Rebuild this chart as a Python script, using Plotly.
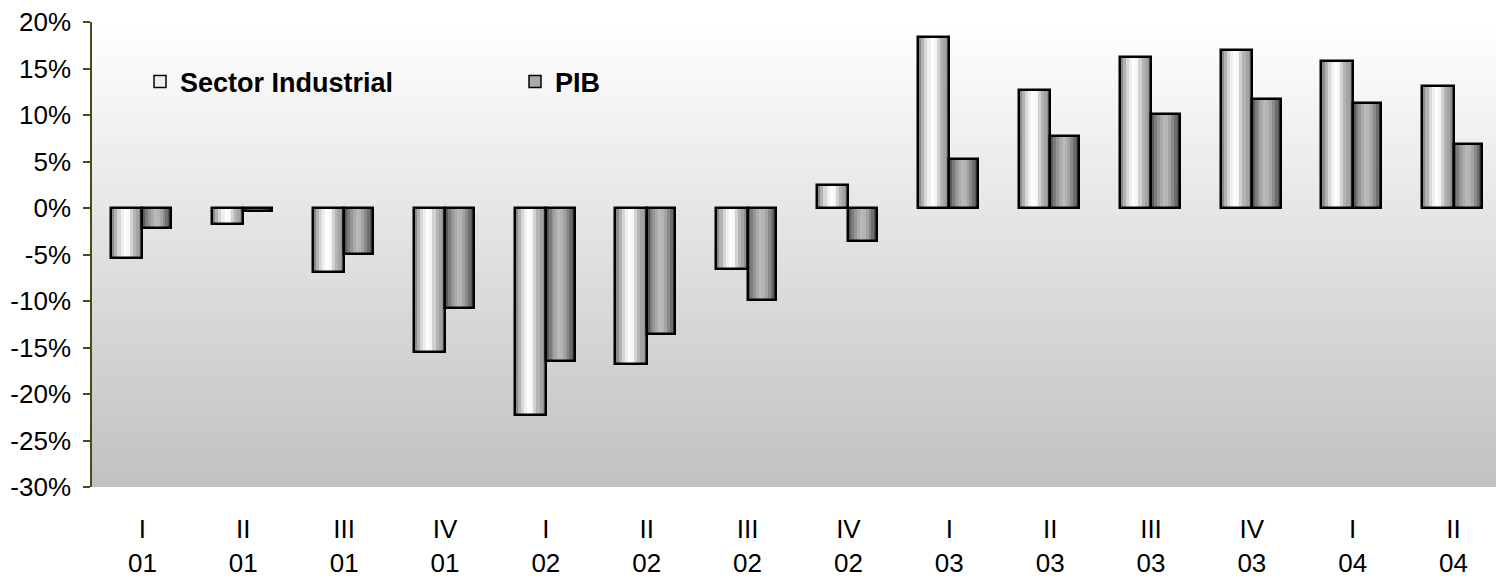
import plotly.graph_objects as go
import numpy as np

quarters = ["I", "II", "III", "IV", "I", "II", "III", "IV", "I", "II", "III", "IV", "I", "II"]
years = ["01", "01", "01", "01", "02", "02", "02", "02", "03", "03", "03", "03", "04", "04"]
sector_industrial = [-5.4, -1.7, -6.9, -15.5, -22.3, -16.8, -6.6, 2.45, 18.4, 12.7, 16.2, 17.0, 15.8, 13.1]
pib = [-2.1, -0.3, -4.9, -10.7, -16.4, -13.5, -9.9, -3.6, 5.3, 7.7, 10.1, 11.7, 11.3, 6.9]
y_ticks = [20, 15, 10, 5, 0, -5, -10, -15, -20, -25, -30]

x = np.arange(len(quarters))
labels = [q + "<br>" + y for q, y in zip(quarters, years)]

# cylinder-like shading, left to right
sector_shades = ["#8a8a8a", "#b2b2b2", "#d6d6d6", "#efefef", "#ffffff",
                 "#f6f6f6", "#d2d2d2", "#b4b4b4", "#a4a4a4", "#8e8e8e"]
pib_shades = ["#5a5a5a", "#7c7c7c", "#969696", "#aaaaaa", "#b9b9b9",
              "#b4b4b4", "#a4a4a4", "#8a8a8a", "#6e6e6e", "#555555"]

fig = go.Figure()


def add_series(values, shades, width, offset, name):
    n = len(shades)
    sw = width / n
    for i, c in enumerate(shades):
        fig.add_trace(go.Bar(
            x=x, y=values, width=sw, offset=offset + i * sw,
            marker=dict(color=c, line=dict(width=0)),
            showlegend=False, hoverinfo="skip"))
    # outline
    fig.add_trace(go.Bar(
        x=x, y=values, width=width, offset=offset, name=name,
        marker=dict(color="rgba(0,0,0,0)", line=dict(color="black", width=2.5)),
        showlegend=False))
    # legend entry
    fig.add_trace(go.Bar(
        x=[None], y=[None], name=name,
        marker=dict(color=shades[3], line=dict(color="black", width=1.5))))


add_series(sector_industrial, sector_shades, 0.31, -0.31, "Sector Industrial")
add_series(pib, pib_shades, 0.285, 0.0, "PIB")

# background gradient of the plot area
bands = 80
shapes = []
for k in range(bands):
    t0 = k / bands
    g = int(round(193 + (255 - 193) * (t0 + 0.5 / bands)))
    shapes.append(dict(type="rect", xref="x domain", yref="y domain",
                       x0=0, x1=1, y0=t0, y1=t0 + 1 / bands + 0.002,
                       fillcolor=f"rgb({g},{g},{g})", line=dict(width=0),
                       layer="below"))

# page body has an 8px margin, so the figure is a bit smaller than the window
fig.update_layout(
    width=1496, height=570,
    margin=dict(l=84, r=0, t=14, b=91, autoexpand=False),
    paper_bgcolor="white", plot_bgcolor="rgba(0,0,0,0)",
    barmode="overlay", bargap=0,
    shapes=shapes,
    font=dict(family="Liberation Sans, Arial, sans-serif", color="black", size=26),
    xaxis=dict(
        range=[-0.5, len(x) - 0.5], tickvals=x, ticktext=labels,
        showline=False, showgrid=False, zeroline=False, ticks="",
        tickfont=dict(size=26), ticklabelstandoff=24, automargin=False,
        ticklabeloverflow="allow"),
    xaxis2=dict(
        overlaying="x", anchor="free", position=0.6, side="bottom",
        range=[-0.5, len(x) - 0.5], tickvals=x[:-1] + 0.5,
        showticklabels=False, ticks="outside", ticklen=8, tickwidth=1.5,
        tickcolor="#404040", showline=True, linecolor="#404040", linewidth=1.5,
        showgrid=False, zeroline=False, automargin=False),
    yaxis=dict(
        range=[-30, 20], tickvals=y_ticks, ticktext=[f"{v}%" for v in y_ticks],
        showgrid=False, zeroline=False, showline=True, linecolor="#4a4a1a",
        linewidth=1.5, ticks="outside", ticklen=7, tickcolor="#4a4a1a",
        tickwidth=1.5, tickfont=dict(size=26), ticklabelstandoff=7,
        automargin=False, ticklabeloverflow="allow"),
    legend=dict(
        orientation="h", x=0.034, y=0.9235, xanchor="left", yanchor="top",
        bgcolor="rgba(0,0,0,0)", entrywidth=330, entrywidthmode="pixels",
        font=dict(size=27, weight="bold"), itemclick=False),
)

fig.write_html("out.html")
